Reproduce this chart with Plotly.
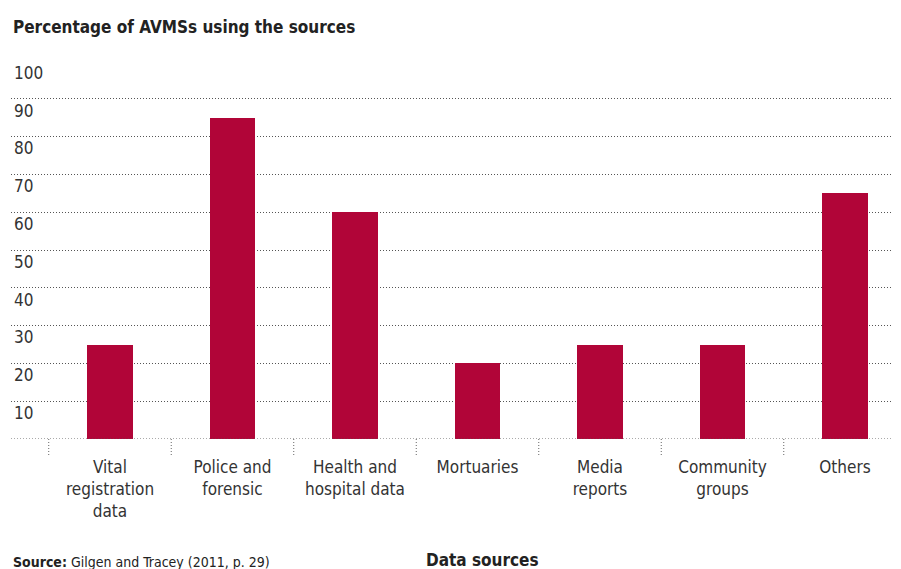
import plotly.graph_objects as go

categories = ["Vital<br>registration<br>data", "Police and<br>forensic", "Health and<br>hospital data",
              "Mortuaries", "Media<br>reports", "Community<br>groups", "Others"]
values = [25, 85, 60, 20, 25, 25, 65]
ytick_vals = [0, 10, 20, 30, 40, 50, 60, 70, 80, 90, 100]
ytick_text = ["", "10", "20", "30", "40", "50", "60", "70", "80", "90", "100"]

FONT = "DejaVu Sans Condensed, Liberation Sans Narrow, Roboto, sans-serif"
BAR = "#B10538"
TXT = "#333333"

xpos = list(range(len(categories)))

fig = go.Figure()
fig.add_trace(go.Bar(x=xpos, y=values, width=0.375, marker=dict(color=BAR, line=dict(width=0)),
                     hoverinfo="skip"))

shapes = []
for i in range(len(categories)):
    shapes.append(dict(type="line", xref="x", yref="paper", x0=i - 0.5, x1=i - 0.5, y0=0, y1=-0.045,
                       line=dict(color="#666666", width=1, dash="1px,2px"), layer="above"))
# dotted baseline
shapes.append(dict(type="line", xref="paper", yref="y", x0=0, x1=1, y0=ytick_vals[0], y1=ytick_vals[0],
                   line=dict(color="#555555", width=1, dash="1px,2px"), layer="above"))

fig.update_layout(
    width=893, height=561,
    margin=dict(l=3, r=0, t=53, b=130, autoexpand=False),
    paper_bgcolor="white", plot_bgcolor="white",
    showlegend=False,
    bargap=0,
    font=dict(family=FONT, size=16, color=TXT),
    xaxis=dict(
        range=[-0.808, 6.457], tickmode="array", tickvals=xpos, ticktext=categories,
        showgrid=False, zeroline=False, showline=False, ticks="",
        tickfont=dict(family=FONT, size=17, color=TXT),
        ticklabelstandoff=16, automargin=False,
    ),
    yaxis=dict(
        range=[0, 100], tickmode="array", tickvals=ytick_vals, ticktext=ytick_text,
        showgrid=True, gridcolor="#555555", griddash="1px,2px", gridwidth=1,
        zeroline=False, showline=False, ticks="",
        ticklabelposition="inside bottom", automargin=False,
        tickfont=dict(family=FONT, size=17, color=TXT),
        layer="below traces",
    ),
    shapes=shapes,
    annotations=[
        dict(text="<b>Percentage of AVMSs using the sources</b>", xref="paper", yref="paper",
             x=0, y=1, yshift=34, xanchor="left", yanchor="middle", showarrow=False,
             font=dict(family=FONT, size=17, color="#222222")),
        dict(text="<b>Source:</b> Gilgen and Tracey (2011, p. 29)", xref="paper", yref="paper",
             x=0, y=0, yshift=-123, xanchor="left", yanchor="middle", showarrow=False,
             font=dict(family=FONT, size=14, color="#222222")),
        dict(text="<b>Data sources</b>", xref="x", yref="paper",
             x=3, y=0, yshift=-121, xshift=5, xanchor="center", yanchor="middle", showarrow=False,
             font=dict(family=FONT, size=17, color="#222222")),
    ],
)

fig.write_html("out.html")
